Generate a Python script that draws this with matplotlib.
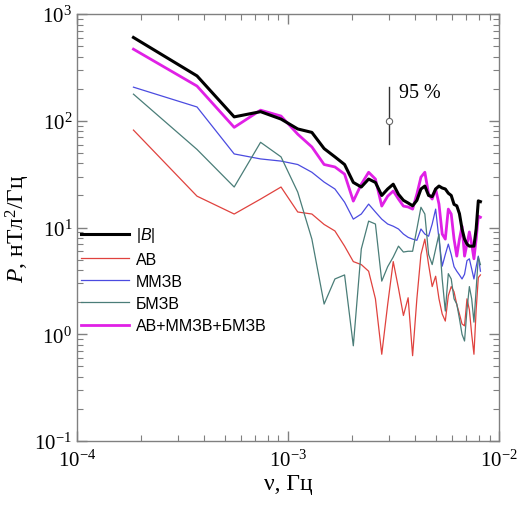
import numpy as np
import matplotlib
matplotlib.use("Agg")
import matplotlib.pyplot as plt
from matplotlib.ticker import LogLocator, NullFormatter

plt.rcParams['font.family'] = ['Liberation Serif', 'DejaVu Serif']
plt.rcParams['mathtext.fontset'] = 'custom'
plt.rcParams['mathtext.rm'] = 'Liberation Serif'
plt.rcParams['mathtext.it'] = 'Liberation Serif:italic'
plt.rcParams['mathtext.bf'] = 'Liberation Sans:italic'
plt.rcParams['mathtext.sf'] = 'Liberation Sans'

# harmonic numbers, frequency = k / 5400 Hz
harmonics = list(range(1, 45))
freq = [k / 5400.0 for k in harmonics]

P_B = [605, 264, 109, 122, 104, 84, 78, 55, 46, 39, 26.5, 24, 28.5, 26.5, 20,
       23, 25.5, 20.5, 18, 17, 16, 18, 23, 24.5, 20, 19.5, 23, 24.5, 23.5, 23,
       21, 20, 16.5, 16, 13.5, 9.7, 7.8, 7.0, 6.7, 6.7, 6.7, 9.7, 17.8, 17.5]
P_AV = [82, 19.7, 13.4, 18.5, 24, 14, 13.4, 10.7, 9.3, 6.7, 4.8, 4.5, 3.9, 2.15,
        0.65, 1.9, 4.8, 2.7, 1.5, 2.2, 0.63, 2.15, 5.6, 7.8, 4.5, 2.8, 3.5, 2.15,
        1.55, 1.33, 2.3, 2.8, 2.5, 1.9, 1.55, 1.25, 1.2, 2.15, 1.7, 1.0, 0.65,
        1.7, 3.4, 3.6]
P_MMZV = [207, 135, 49, 44, 42, 39, 33, 26.7, 23, 17.3, 12, 13.4, 16.6, 14, 12,
          10.8, 10.3, 9.7, 8.7, 8.1, 7.8, 7.6, 9.7, 8.7, 8.3, 10.8, 14.9, 7.8,
          4.35, 5.6, 7.0, 5.6, 4.3, 3.9, 3.6, 3.3, 3.65, 4.9, 5.1, 4.1, 3.3, 4.3,
          5.4, 3.9]
P_BMZV = [178, 54, 24, 63, 46, 21.5, 7.8, 1.92, 3.3, 3.6, 0.78, 6.3, 11.5, 10.8,
          3.15, 4.3, 5.3, 6.7, 5.9, 6.0, 6.0, 9.7, 15.5, 13.4, 5.6, 4.5, 6.3, 8.7,
          3.3, 1.65, 3.7, 3.3, 2.15, 1.92, 1.4, 1.0, 0.865, 1.7, 2.8, 2.15, 1.3,
          2.65, 5.3, 4.5]
P_SUM = [470, 212, 87, 126, 111, 75, 57, 39, 37, 31.7, 17.7, 25.5, 33, 28.5, 15.9,
         19.7, 22, 18.5, 15.9, 15.6, 14.9, 20.6, 29.7, 33, 20.6, 18.5, 23, 16.6,
         8.7, 7.8, 14.9, 13.4, 7.8, 5.4, 7.8, 10.3, 5.4, 7.0, 9.1, 7.0, 5.1, 7.8,
         12.8, 12.5]

labels = [r"|$\mathbf{B}$|", "АВ", "ММЗВ", "БМЗВ", "АВ+ММЗВ+БМЗВ"]
colors = ["#000000", "#e0423e", "#4b4be0", "#4a7d78", "#e020e6"]
widths = [2.2, 0.9, 0.9, 0.9, 2.0]

err_x = 3.0e-3
err_y = 100
err_lo = 60.5
err_hi = 207
err_label = "95 %"

fig = plt.figure(figsize=(5.2, 5.06), dpi=100)
ax = fig.add_axes([0.148, 0.1265, 0.812, 0.8435])

series = [P_B, P_AV, P_MMZV, P_BMZV, P_SUM]
order = [1, 2, 3, 4, 0]
handles = {}
for i in order:
    h, = ax.plot(freq, series[i], color=colors[i], lw=widths[i], label=labels[i],
                 zorder=3 if i in (0, 4) else 2)
    handles[i] = h

ax.plot([err_x, err_x], [err_lo, err_hi], color="#333333", lw=1.0)
ax.plot([err_x], [err_y], marker="o", ms=4.5, mfc="white", mec="#666666", mew=0.8)
ax.text(err_x * 1.12, 186, err_label, fontsize=14.5, va="center", ha="left")

ax.set_xscale("log")
ax.set_yscale("log")
ax.set_xlim(1e-4, 1e-2)
ax.set_ylim(1e-1, 1e3)

ax.xaxis.set_major_locator(LogLocator(base=10, numticks=10))
ax.xaxis.set_minor_locator(LogLocator(base=10, subs=np.arange(2, 10), numticks=20))
ax.yaxis.set_major_locator(LogLocator(base=10, numticks=10))
ax.yaxis.set_minor_locator(LogLocator(base=10, subs=np.arange(2, 10), numticks=20))
ax.xaxis.set_minor_formatter(NullFormatter())
ax.yaxis.set_minor_formatter(NullFormatter())

for s in ax.spines.values():
    s.set_color("#808080")
    s.set_linewidth(1.0)
ax.tick_params(which="both", direction="in", top=True, right=True, colors="#808080",
               labelcolor="black", labelsize=15)
ax.tick_params(which="major", length=7, width=1.0)
ax.tick_params(which="minor", length=4, width=0.8)
ax.tick_params(axis="x", which="major", pad=6)

ax.set_xlabel("ν, Гц", fontsize=17, labelpad=2)
ax.set_ylabel(r"$P$, нТл$^2$/Гц", fontsize=17, labelpad=2)

leg = ax.legend([handles[i] for i in range(5)], [labels[i] for i in range(5)],
                loc="upper left", bbox_to_anchor=(-0.005, 0.52), frameon=False,
                prop={"family": "Liberation Sans", "size": 11.5},
                handlelength=3.0, handletextpad=0.4, labelspacing=0.45,
                borderaxespad=0.0)

fig.savefig("out.png", dpi=100)
